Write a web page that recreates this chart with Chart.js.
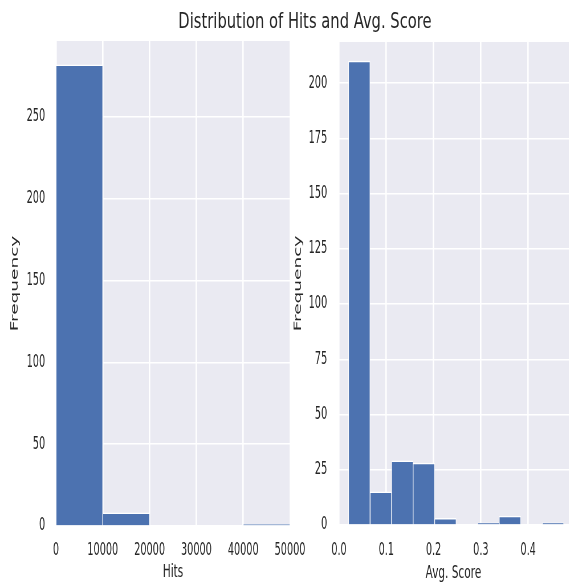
<!DOCTYPE html>
<html>
<head>
<meta charset="utf-8">
<script src="https://cdn.jsdelivr.net/npm/chart.js@4.4.0/dist/chart.umd.min.js"></script>
<style>
  html, body { margin: 0; padding: 0; background: #fff; overflow: hidden; width: 569px; height: 585px; }
  /* the source figure is squeezed sideways, so draw wide and squash the whole thing */
  #fig { position: absolute; left: 0; top: 0; width: 998px; height: 585px;
         transform: scaleX(0.57); transform-origin: 0 0; }
  #title { position: absolute; top: 10px; left: 305px; white-space: nowrap;
           transform: translateX(-50%) scaleX(0.67);
           font: 22px/22px "DejaVu Sans", sans-serif; color: #262626; }
  #hitsChart { position: absolute; left: 0; top: 0; }
  #scoreChart { position: absolute; left: 495px; top: 0; }
</style>
</head>
<body>
<div id="fig">
  <canvas id="hitsChart" width="560" height="585"></canvas>
  <canvas id="scoreChart" width="503" height="585"></canvas>
</div>
<div id="title">Distribution of Hits and Avg. Score</div>
<script>
// histogram data (bin centres + counts)
var hitsBins = [5000, 15000, 25000, 35000, 45000];
var hitsCounts = [282, 8, 0, 0, 1];
var hitsXTicks = [0, 10000, 20000, 30000, 40000, 50000];
var hitsYTicks = [0, 50, 100, 150, 200, 250];

var scoreBins = [0.0430, 0.0885, 0.1340, 0.1795, 0.2250, 0.2705, 0.3160, 0.3615, 0.4070, 0.4525];
var scoreCounts = [210, 15, 29, 28, 3, 0, 1, 4, 0, 1];
var scoreXTicks = [0, 0.1, 0.2, 0.3, 0.4];
var scoreYTicks = [0, 25, 50, 75, 100, 125, 150, 175, 200];

var textColor = '#262626';
var tickFont = { family: '"DejaVu Sans", sans-serif', size: 17 };
var labelFont = { family: '"DejaVu Sans", sans-serif', size: 18.5 };

// grey panel behind the bars (seaborn darkgrid)
var plotBackground = {
    id: 'plotBackground',
    beforeDraw: function(chart) {
        var ctx = chart.ctx, a = chart.chartArea;
        ctx.save();
        ctx.fillStyle = '#eaeaf2';
        ctx.fillRect(a.left, a.top, a.right - a.left, a.bottom - a.top);
        ctx.restore();
    }
};

function histChart(id, bins, counts, o) {
    return new Chart(document.getElementById(id), {
        type: 'bar',
        data: {
            datasets: [{
                data: bins.map(function(b, i) { return { x: b, y: counts[i] }; }),
                backgroundColor: '#4c72b0',
                borderColor: '#ffffff',
                borderWidth: { top: 1.5, left: 1, right: 1, bottom: 0 },
                barPercentage: 1,
                categoryPercentage: 1
            }]
        },
        options: {
            responsive: false,
            animation: false,
            devicePixelRatio: 1,
            layout: { padding: { top: o.top, right: o.right, left: 0, bottom: 0 } },
            plugins: { legend: { display: false }, tooltip: { enabled: false } },
            scales: {
                x: {
                    type: 'linear',
                    offset: false,
                    min: o.xMin, max: o.xMax,
                    afterBuildTicks: function(s) { s.ticks = o.xTicks.map(function(v) { return { value: v }; }); },
                    afterFit: function(s) { s.height = o.xHeight; },
                    grid: { color: '#ffffff', lineWidth: 2.6, drawTicks: false, offset: false },
                    border: { display: false },
                    ticks: { color: textColor, font: tickFont, padding: o.xTickPad, maxRotation: 0, autoSkip: false,
                             callback: o.xFormat },
                    title: { display: true, text: o.xTitle, color: textColor, font: labelFont,
                             padding: { top: 0, bottom: o.xTitlePad } }
                },
                y: {
                    min: 0, max: o.yMax,
                    afterBuildTicks: function(s) { s.ticks = o.yTicks.map(function(v) { return { value: v }; }); },
                    afterFit: function(s) { s.width = o.yWidth; },
                    grid: { color: '#ffffff', lineWidth: 1.5, drawTicks: false },
                    border: { display: false },
                    ticks: { color: textColor, font: tickFont, padding: 19,
                             callback: function(v) { return String(v); } },
                    title: { display: true, text: 'Frequency', color: textColor, font: labelFont,
                             padding: { top: o.yTitlePad, bottom: 0 } }
                }
            }
        },
        plugins: [plotBackground]
    });
}

histChart('hitsChart', hitsBins, hitsCounts, {
    top: 41, right: 51.2, xHeight: 59, yWidth: 98.2, yTitlePad: 15,
    xTickPad: 14, xTitlePad: 2,
    xMin: 0, xMax: 50000, yMax: 296.5,
    xTicks: hitsXTicks, yTicks: hitsYTicks, xTitle: 'Hits',
    xFormat: function(v) { return String(v); }
});

histChart('scoreChart', scoreBins, scoreCounts, {
    top: 42, right: 0, xHeight: 60, yWidth: 98, yTitlePad: 17,
    xTickPad: 15, xTitlePad: 1,
    xMin: -0.002, xMax: 0.486, yMax: 218.6,
    xTicks: scoreXTicks, yTicks: scoreYTicks, xTitle: 'Avg. Score',
    xFormat: function(v) { return v.toFixed(1); }
});
</script>
</body>
</html>
